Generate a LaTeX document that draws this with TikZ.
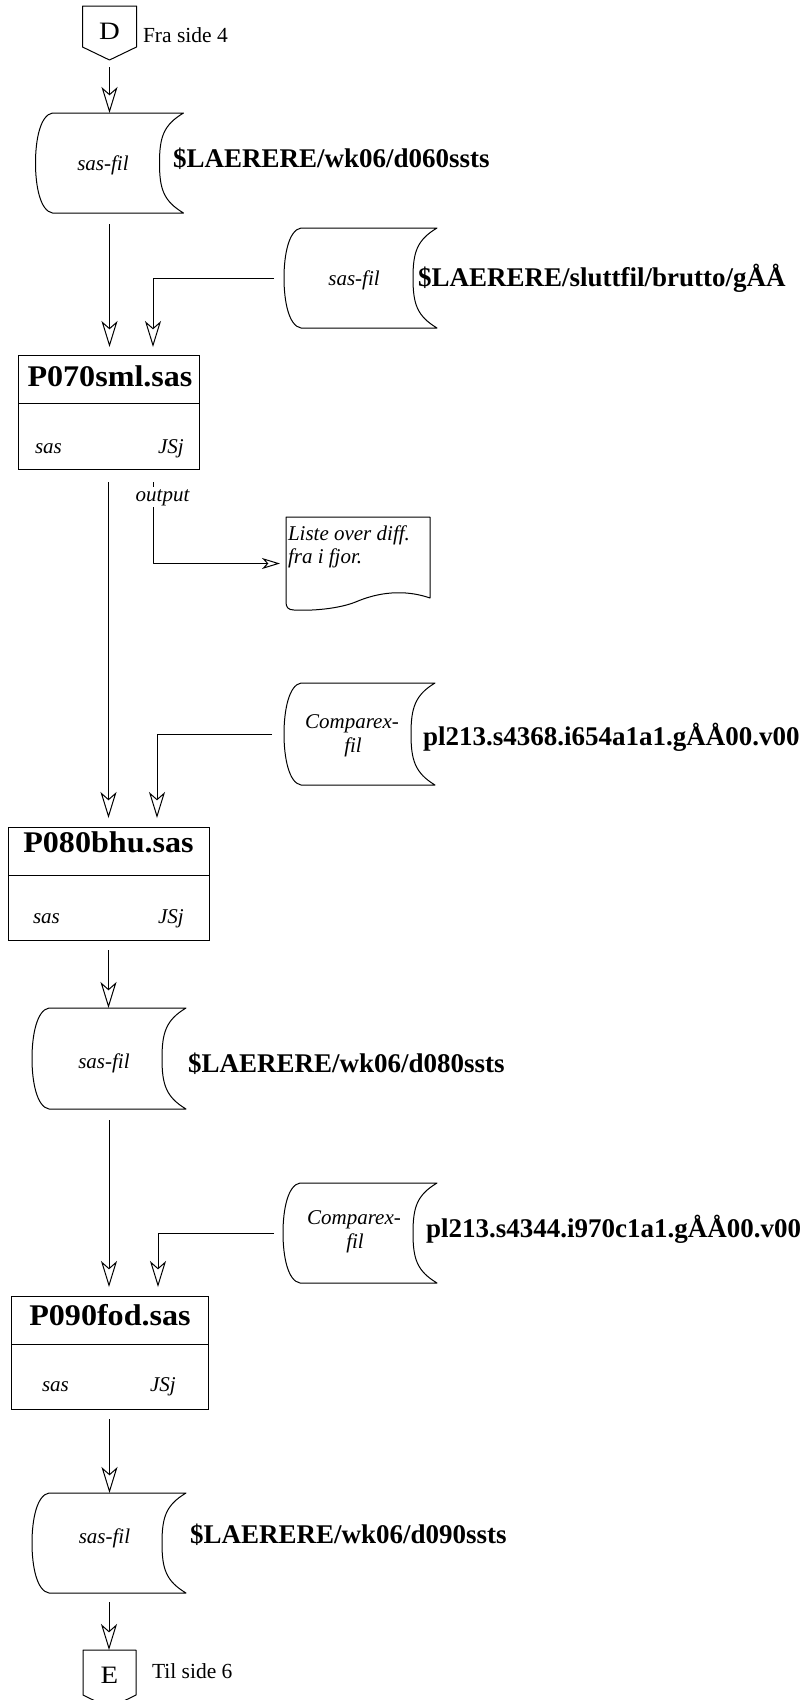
\documentclass[tikz,border=0pt]{standalone}
\usepackage{fontspec}
\setmainfont{Liberation Serif}
\usetikzlibrary{arrows.meta,calc}
\newcommand\fLbl{\fontsize{27}{30}\selectfont\bfseries}
\newcommand\fTtl{\fontsize{30}{32}\selectfont\bfseries}
\newcommand\fIt{\fontsize{21}{24}\selectfont\itshape}
\newcommand\fRm{\fontsize{21.5}{24}\selectfont}
\newcommand\fBig{\fontsize{25}{28}\selectfont}
\newcommand\diskoutline[1]{%
  \draw[ln] ($(#1.north west)+(17,0)$) -- (#1.north east)
    .. controls ($(#1.north east)+(-20,12)$) and ($(#1.east)+(-24,-26)$) .. ($(#1.east)+(-24,0)$)
    .. controls ($(#1.east)+(-24,26)$) and ($(#1.south east)+(-20,-12)$) .. (#1.south east)
    -- ($(#1.south west)+(17,0)$)
    .. controls ($(#1.south west)+(5,-2)$) and ($(#1.west)+(0,24)$) .. (#1.west)
    .. controls ($(#1.west)+(0,-24)$) and ($(#1.north west)+(5,2)$) .. cycle;}
\newcommand\pentoutline[1]{%
  \draw[ln] (#1.north west) -- (#1.south west) -- ($(#1.south)+(0,13)$) -- (#1.south east) -- (#1.north east) -- cycle;}
\tikzset{
  every node/.style={inner sep=0pt, outer sep=0pt},
  ln/.style={line width=1pt, line join=round},
  arr/.style={ln, -{Stealth[open, length=26pt, width=16pt, inset=7pt, line width=1pt]}},
  arrsm/.style={ln, -{Stealth[open, length=18pt, width=11pt, inset=5pt, line width=1pt]}},
  disk/.style={rectangle, minimum width=152pt, minimum height=100pt},
  procbox/.style={rectangle, draw, line width=1pt},
  conn/.style={rectangle, minimum width=54pt, minimum height=41pt},
  lbl/.style={anchor=base west, font=\fLbl},
  itx/.style={anchor=base, font=\fIt},
  itw/.style={anchor=base west, font=\fIt},
  ttl/.style={anchor=base, font=\fTtl},
}
\begin{document}
\begin{tikzpicture}[x=1pt,y=-1pt]
\useasboundingbox (0,0) rectangle (801,1700);
\fill[white] (0,0) rectangle (801,1700);

% connector D
\node[conn] (D) at (109.5,26.5) {};
\pentoutline{D}
\node[anchor=base, font=\fBig] (Dt) at (109.5,39) {\scalebox{1.15}[1]{D}};
\node[anchor=base west, font=\fRm] (Dl) at (143,42) {Fra side 4};

% disk 1
\node[disk, minimum width=148pt] (d1) at (109.5,163) {};
\diskoutline{d1}
\node[itx] (d1t) at (103,170) {sas-fil};
\node[lbl] (l1) at (173,167) {\$LAERERE/wk06/d060ssts};

% disk 2
\node[disk, minimum width=153pt] (d2) at (360.5,278) {};
\diskoutline{d2}
\node[itx] (d2t) at (354,285) {sas-fil};
\node[lbl] (l2) at (418,286) {\$LAERERE/sluttfil/brutto/gÅÅ};

% box P070
\node[procbox, minimum width=181pt, minimum height=114pt] (p70) at (108.5,412) {};
\draw[ln] ($(p70.north west)+(0,48)$) -- ($(p70.north east)+(0,48)$);
\node[ttl] (p70t) at (110,386) {\scalebox{1.07}[1]{P070sml.sas}};
\node[itw] (p70a) at (35,453) {sas};
\node[itw] (p70b) at (158,453) {JSj};

% document
\node[rectangle, minimum width=144pt, minimum height=93pt] (doc) at (358,563.5) {};
\draw[ln] (doc.north west) -- (doc.north east) -- ($(doc.south east)+(0,-12)$)
  .. controls ($(doc.south east)+(-20,-19)$) and ($(doc.south east)+(-45,-20)$) .. ($(doc.south east)+(-72,-9)$)
  .. controls ($(doc.south east)+(-90,-1)$) and ($(doc.south west)+(25,1)$) .. ($(doc.south west)+(8,0)$)
  .. controls ($(doc.south west)+(2,0)$) and ($(doc.south west)+(0,-3)$) .. ($(doc.south west)+(0,-8)$) -- cycle;
\node[itw] (doct1) at (288,540) {Liste over diff.};
\node[itw] (doct2) at (288,563) {fra i fjor.};

% disk 3
\node[disk, minimum width=151pt, minimum height=102pt] (d3) at (359.5,734) {};
\diskoutline{d3}
\node[itx] (d3t) at (352,728) {Comparex-};
\node[itx] (d3u) at (353,752) {fil};
\node[lbl] (l3) at (423,745) {pl213.s4368.i654a1a1.gÅÅ00.v00};

% box P080
\node[procbox, minimum width=201pt, minimum height=113pt] (p80) at (108.5,883.5) {};
\draw[ln] ($(p80.north west)+(0,48)$) -- ($(p80.north east)+(0,48)$);
\node[ttl] (p80t) at (108.5,852) {\scalebox{1.07}[1]{P080bhu.sas}};
\node[itw] (p80a) at (33,923) {sas};
\node[itw] (p80b) at (158,923) {JSj};

% disk 4
\node[disk, minimum width=154pt, minimum height=101pt] (d4) at (109,1058.5) {};
\diskoutline{d4}
\node[itx] (d4t) at (104,1068) {sas-fil};
\node[lbl] (l4) at (188,1072) {\$LAERERE/wk06/d080ssts};

% disk 6
\node[disk, minimum width=154pt] (d6) at (360,1233) {};
\diskoutline{d6}
\node[itx] (d6t) at (354,1224) {Comparex-};
\node[itx] (d6u) at (355,1248) {fil};
\node[lbl] (l6) at (426,1237) {pl213.s4344.i970c1a1.gÅÅ00.v00};

% box P090
\node[procbox, minimum width=197pt, minimum height=113pt] (p90) at (109.5,1352.5) {};
\draw[ln] ($(p90.north west)+(0,48)$) -- ($(p90.north east)+(0,48)$);
\node[ttl] (p90t) at (110,1325) {\scalebox{1.07}[1]{P090fod.sas}};
\node[itw] (p90a) at (42,1391) {sas};
\node[itw] (p90b) at (150,1391) {JSj};

% disk 5
\node[disk, minimum width=154pt] (d5) at (109,1543) {};
\diskoutline{d5}
\node[itx] (d5t) at (104.5,1543) {sas-fil};
\node[lbl] (l5) at (190,1543) {\$LAERERE/wk06/d090ssts};

% connector E
\node[conn, minimum width=53pt, minimum height=45pt] (E) at (109.5,1672.5) {};
\pentoutline{E}
\node[anchor=base, font=\fBig] (Et) at (109.5,1683) {\scalebox{1.15}[1]{E}};
\node[anchor=base west, font=\fRm] (El) at (152,1678) {Til side 6};

% connectors
\draw[arr, shorten <=20pt] (D.south) -- (D.south |- d1.north);
\draw[arr, shorten <=11pt, shorten >=8pt] (d1.south) -- (d1.south |- p70.north);
\draw[arr, shorten <=10pt, shorten >=8pt] (d2.west) -| ([xshift=44.5pt]p70.north);
\draw[arr, shorten <=13pt, shorten >=9pt] (p70.south) -- (p70.south |- p80.north);
\draw[arrsm, shorten <=13pt, shorten >=6pt] ([xshift=44.5pt]p70.south) |- (doc.west);
\node[anchor=base, font=\fIt, fill=white, inner sep=2pt] (outl) at (162.5,501) {output};
\draw[arr, shorten <=12pt, shorten >=9pt] (d3.west) -| ([xshift=48.5pt]p80.north);
\draw[arr, shorten <=10pt] (p80.south) -- (p80.south |- d4.north);
\draw[arr, shorten <=11pt, shorten >=9pt] (d4.south) -- (d4.south |- p90.north);
\draw[arr, shorten <=9pt, shorten >=9pt] (d6.west) -| ([xshift=48.5pt]p90.north);
\draw[arr, shorten <=10pt] (p90.south) -- (p90.south |- d5.north);
\draw[arr, shorten <=9pt] (d5.south) -- (d5.south |- E.north);
\end{tikzpicture}
\end{document}
